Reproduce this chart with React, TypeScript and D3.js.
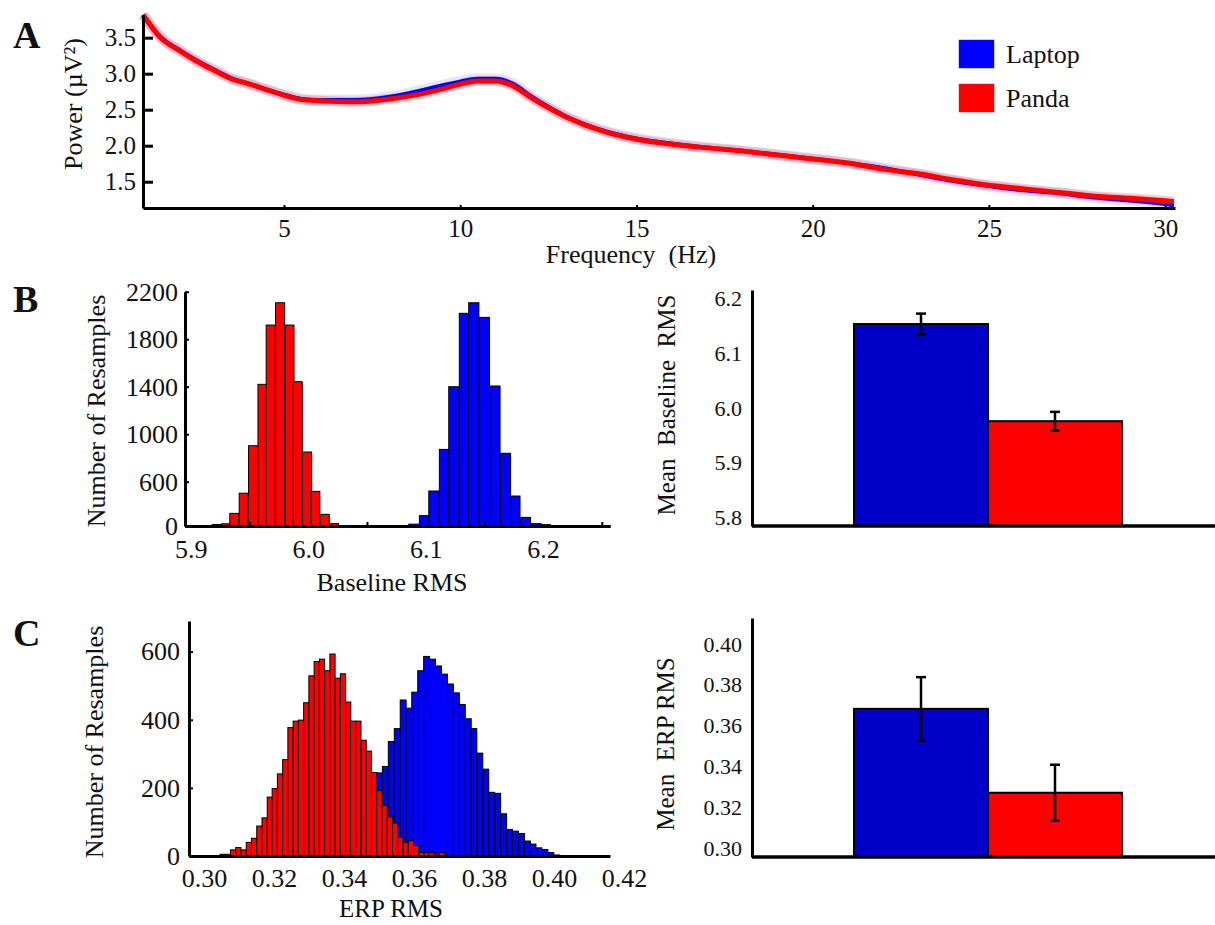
import React, { useEffect, useRef } from "react"
import * as d3 from "d3"

// A: power spectrum
const freqs = [1, 1.5, 2, 2.5, 3, 3.5, 4, 4.5, 5, 5.5, 6, 7, 8, 9, 9.5, 10, 10.5, 11, 11.5, 12, 13, 14, 15, 16, 17, 18, 19, 20, 21, 22, 23, 24, 25, 26, 27, 28, 29, 30, 30.25]
const laptopPower = [3.82, 3.51, 3.34, 3.19, 3.06, 2.94, 2.86, 2.78, 2.71, 2.65, 2.635, 2.635, 2.68, 2.78, 2.84, 2.89, 2.93, 2.93, 2.86, 2.69, 2.41, 2.22, 2.1, 2.03, 1.975, 1.93, 1.875, 1.82, 1.76, 1.69, 1.6, 1.51, 1.44, 1.38, 1.34, 1.28, 1.24, 1.19, 1.17]
const pandaPower = [3.815, 3.5, 3.33, 3.18, 3.05, 2.93, 2.86, 2.78, 2.7, 2.64, 2.625, 2.61, 2.65, 2.73, 2.79, 2.855, 2.9, 2.9, 2.83, 2.67, 2.4, 2.21, 2.09, 2.02, 1.97, 1.925, 1.87, 1.815, 1.76, 1.675, 1.61, 1.525, 1.45, 1.4, 1.35, 1.3, 1.27, 1.235, 1.225]
const powerTicks = [1.5, 2.0, 2.5, 3.0, 3.5]
const freqTicks = [5, 10, 15, 20, 25, 30]

// B: baseline RMS resampling histograms
const baselinePandaBins = [5.922, 5.93, 5.937, 5.945, 5.953, 5.961, 5.968, 5.976, 5.984, 5.991, 5.999, 6.006, 6.014, 6.022]
const baselinePandaCounts = [20, 30, 171, 444, 903, 1420, 1919, 2107, 1919, 1442, 850, 469, 158, 32]
const baselinePandaWidth = 0.0077
const baselineLaptopBins = [6.09, 6.099, 6.107, 6.116, 6.124, 6.133, 6.141, 6.15, 6.159, 6.168, 6.176, 6.185, 6.194, 6.202]
const baselineLaptopCounts = [25, 140, 474, 872, 1400, 2018, 2107, 1984, 1406, 839, 406, 117, 32, 18]
const baselineLaptopWidth = 0.0087
const baselineCountTicks = [0, 600, 1000, 1400, 1800, 2200]
const baselineRmsTicks = [5.9, 6.0, 6.1, 6.2]
const baselineRmsMinor = [5.95, 6.05, 6.15, 6.25]

// C: ERP RMS resampling histograms
const erpPandaBins = [0.3053, 0.3068, 0.3083, 0.3098, 0.3113, 0.3128, 0.3143, 0.3158, 0.3173, 0.3188, 0.3202, 0.3217, 0.3232, 0.3247, 0.3262, 0.3277, 0.3292, 0.3307, 0.3322, 0.3337, 0.3352, 0.3367, 0.3382, 0.3397, 0.3412, 0.3426, 0.3441, 0.3456, 0.3471, 0.3486, 0.3501, 0.3516, 0.3531, 0.3546, 0.3561, 0.3576, 0.3591, 0.3606, 0.3621, 0.3636, 0.365, 0.3665, 0.368, 0.3695]
const erpPandaCounts = [5, 5, 18, 25, 18, 40, 52, 88, 112, 173, 198, 241, 283, 377, 396, 399, 450, 529, 571, 578, 544, 593, 522, 535, 452, 396, 396, 340, 308, 245, 192, 149, 115, 97, 56, 40, 45, 31, 10, 10, 10, 6, 10, 2]
const erpPandaWidth = 0.00149
const erpLaptopBins = [0.3298, 0.3315, 0.3332, 0.3349, 0.3366, 0.3383, 0.34, 0.3417, 0.3433, 0.345, 0.3467, 0.3484, 0.3501, 0.3518, 0.3535, 0.3552, 0.3569, 0.3586, 0.3602, 0.3619, 0.3636, 0.3653, 0.367, 0.3687, 0.3704, 0.3721, 0.3738, 0.3755, 0.3771, 0.3788, 0.3805, 0.3822, 0.3839, 0.3856, 0.3873, 0.389, 0.3907, 0.3924, 0.394, 0.3957, 0.3974, 0.3991, 0.4008]
const erpLaptopCounts = [2, 3, 5, 8, 12, 18, 28, 40, 55, 80, 110, 160, 244, 263, 336, 374, 458, 434, 481, 544, 586, 578, 558, 534, 505, 479, 445, 403, 374, 302, 255, 187, 184, 124, 78, 73, 66, 44, 35, 24, 19, 10, 3]
const erpLaptopWidth = 0.00169
const erpCountTicks = [0, 200, 400, 600]
const erpRmsTicks = [0.3, 0.32, 0.34, 0.36, 0.38, 0.4, 0.42]

// bar charts
const groups = ["Laptop", "Panda"]
const baselineMeans = [6.153, 5.976]
const baselineErrors = [0.019, 0.017]
const erpMeans = [0.3683, 0.3273]
const erpErrors = [0.0155, 0.0137]
const meanBaselineTicks = [5.8, 5.9, 6.0, 6.1, 6.2]
const meanErpTicks = [0.3, 0.32, 0.34, 0.36, 0.38, 0.4]

const BLUE = "#0000ff"
const RED = "#ff0000"
const BAR_BLUE = "#0000c8"
const FONT = "'Liberation Serif', 'Times New Roman', serif"

export default function App() {
  const ref = useRef(null)

  useEffect(() => {
    const svg = d3.select(ref.current)
    svg.selectAll("*").remove()

    const styleAxis = (g, size) => {
      g.select(".domain").attr("stroke", "#000").attr("stroke-width", 3)
      g.selectAll(".tick line").attr("stroke", "#000").attr("stroke-width", 2)
      g.selectAll("text").attr("font-family", FONT).attr("font-size", size).attr("fill", "#111")
      g.attr("font-family", null).attr("font-size", null)
    }

    const label = (x, y, txt, size, rotate = false, anchor = "middle") => {
      const t = svg.append("text")
        .attr("font-family", FONT)
        .attr("font-size", size)
        .attr("fill", "#111")
        .attr("text-anchor", anchor)
        .style("white-space", "pre")
        .text(txt)
      if (rotate) {
        t.attr("transform", `translate(${x},${y}) rotate(-90)`).attr("dominant-baseline", "central")
      } else {
        t.attr("x", x).attr("y", y)
      }
      return t
    }

    // panel letters
    label(13, 48, "A", 38, false, "start").attr("font-weight", "bold")
    label(13, 312, "B", 38, false, "start").attr("font-weight", "bold")
    label(13, 646, "C", 38, false, "start").attr("font-weight", "bold")

    // ---------- A ----------
    const xA = d3.scaleLinear().domain([1, 30.28]).range([143, 1175])
    const yA = d3.scaleLinear().domain([1.135, 3.815]).range([208, 15])
    const lineA = (vals) => d3.line().x((d, i) => xA(freqs[i])).y(d => yA(d)).curve(d3.curveMonotoneX)(vals)

    svg.append("path").attr("d", lineA(laptopPower)).attr("fill", "none")
      .attr("stroke", BLUE).attr("stroke-opacity", 0.1).attr("stroke-width", 11)
    svg.append("path").attr("d", lineA(pandaPower)).attr("fill", "none")
      .attr("stroke", RED).attr("stroke-opacity", 0.2).attr("stroke-width", 10)
    svg.append("path").attr("d", lineA(laptopPower)).attr("fill", "none")
      .attr("stroke", BLUE).attr("stroke-width", 4)
    svg.append("path").attr("d", lineA(pandaPower)).attr("fill", "none")
      .attr("stroke", RED).attr("stroke-width", 5)

    const axAy = svg.append("g").attr("transform", "translate(143,0)")
      .call(d3.axisLeft(yA).tickValues(powerTicks).tickFormat(d3.format(".1f"))
        .tickSizeInner(-10).tickSizeOuter(0).tickPadding(7))
    styleAxis(axAy, 25)
    axAy.selectAll(".tick line").attr("stroke-width", 3)
    const axAx = svg.append("g").attr("transform", "translate(0,208)")
      .call(d3.axisBottom(xA).tickValues(freqTicks).tickFormat(d3.format("d"))
        .tickSizeInner(-3).tickSizeOuter(0).tickPadding(11))
    styleAxis(axAx, 25)

    label(73, 104, "Power (µV²)", 26, true)
    label(631, 263, "Frequency  (Hz)", 26)

    // legend
    const legend = [["Laptop", BLUE], ["Panda", RED]]
    legend.forEach(([name, color], i) => {
      svg.append("rect").attr("x", 959).attr("y", 40 + i * 44).attr("width", 35).attr("height", 28)
        .attr("fill", color).attr("stroke", color).attr("stroke-opacity", 0.4)
      label(1006, 54 + i * 44, name, 26, false, "start").attr("dy", "0.35em")
    })

    // ---------- histograms ----------
    const drawHist = (x, y, bins, counts, width, color) => {
      svg.append("g").selectAll("rect").data(bins).enter().append("rect")
        .attr("x", d => x(d - width / 2))
        .attr("width", d => x(d + width / 2) - x(d - width / 2))
        .attr("y", (d, i) => y(counts[i]))
        .attr("height", (d, i) => y(0) - y(counts[i]))
        .attr("fill", color)
        .attr("stroke", "#000")
        .attr("stroke-width", 1)
    }

    // B histogram
    const xB = d3.scaleLinear().domain([5.895, 6.257]).range([185, 610])
    const yB = d3.scaleLinear().domain([0, 600, 2200]).range([526, 481.7, 291.7])
    drawHist(xB, yB, baselinePandaBins, baselinePandaCounts, baselinePandaWidth, RED)
    drawHist(xB, yB, baselineLaptopBins, baselineLaptopCounts, baselineLaptopWidth, BLUE)
    const axBy = svg.append("g").attr("transform", "translate(185,0)")
      .call(d3.axisLeft(yB).tickValues(baselineCountTicks).tickFormat(d3.format("d"))
        .tickSizeInner(-4).tickSizeOuter(0).tickPadding(7))
    styleAxis(axBy, 26)
    const axBxMinor = svg.append("g").attr("transform", "translate(0,526)")
      .call(d3.axisBottom(xB).tickValues(baselineRmsMinor).tickFormat(() => "")
        .tickSizeInner(-4).tickSizeOuter(0))
    styleAxis(axBxMinor, 26)
    const axBx = svg.append("g").attr("transform", "translate(0,526)")
      .call(d3.axisBottom(xB).tickValues(baselineRmsTicks).tickFormat(d3.format(".1f"))
        .tickSizeInner(0).tickSizeOuter(0).tickPadding(14))
    styleAxis(axBx, 26)
    label(96, 411, "Number of Resamples", 26, true)
    label(392, 591, "Baseline RMS", 26)

    // C histogram
    const xC = d3.scaleLinear().domain([0.2957, 0.416]).range([189, 610])
    const yC = d3.scaleLinear().domain([0, 690]).range([856, 621])
    drawHist(xC, yC, erpLaptopBins, erpLaptopCounts, erpLaptopWidth, BLUE)
    drawHist(xC, yC, erpPandaBins, erpPandaCounts, erpPandaWidth, RED)
    const axCy = svg.append("g").attr("transform", "translate(189,0)")
      .call(d3.axisLeft(yC).tickValues(erpCountTicks).tickFormat(d3.format("d"))
        .tickSizeInner(-4).tickSizeOuter(0).tickPadding(9))
    styleAxis(axCy, 26)
    const axCx = svg.append("g").attr("transform", "translate(0,856)")
      .call(d3.axisBottom(xC).tickValues(erpRmsTicks).tickFormat(d3.format(".2f"))
        .tickSizeInner(0).tickSizeOuter(0).tickPadding(13))
    styleAxis(axCx, 26)
    label(94, 742, "Number of Resamples", 26, true)
    label(391, 917, "ERP RMS", 25)

    // ---------- bar charts ----------
    const xBar = d3.scaleBand().domain(groups).range([854, 1122]).paddingInner(0)
    const drawBars = (y, means, errors, ticks, fmt) => {
      const colors = [BAR_BLUE, RED]
      svg.append("g").selectAll("rect").data(groups).enter().append("rect")
        .attr("x", d => xBar(d))
        .attr("width", xBar.bandwidth())
        .attr("y", (d, i) => y(means[i]))
        .attr("height", (d, i) => y.range()[0] - y(means[i]))
        .attr("fill", (d, i) => colors[i])
        .attr("stroke", "#000")
        .attr("stroke-width", 2)
      const cx = d => xBar(d) + xBar.bandwidth() / 2
      const err = svg.append("g").selectAll("g").data(groups).enter().append("g")
        .attr("stroke", "#000").attr("stroke-width", 2.5)
      err.append("line")
        .attr("x1", cx).attr("x2", cx)
        .attr("y1", (d, i) => y(means[i] - errors[i])).attr("y2", (d, i) => y(means[i] + errors[i]))
      err.append("line")
        .attr("x1", d => cx(d) - 5).attr("x2", d => cx(d) + 5)
        .attr("y1", (d, i) => y(means[i] - errors[i])).attr("y2", (d, i) => y(means[i] - errors[i]))
      err.append("line")
        .attr("x1", d => cx(d) - 5).attr("x2", d => cx(d) + 5)
        .attr("y1", (d, i) => y(means[i] + errors[i])).attr("y2", (d, i) => y(means[i] + errors[i]))

      const ay = svg.append("g").attr("transform", "translate(752,0)")
        .call(d3.axisLeft(y).tickValues(ticks).tickFormat(fmt).tickSizeInner(0).tickSizeOuter(0).tickPadding(10))
      styleAxis(ay, 22)
      svg.append("line").attr("x1", 752).attr("x2", 1215).attr("y1", y.range()[0]).attr("y2", y.range()[0])
        .attr("stroke", "#000").attr("stroke-width", 3.5)
    }

    const yMeanB = d3.scaleLinear().domain([5.785, 6.215]).range([526, 290])
    drawBars(yMeanB, baselineMeans, baselineErrors, meanBaselineTicks, d3.format(".1f"))
    label(666, 405, "Mean  Baseline  RMS", 25, true)

    const yMeanC = d3.scaleLinear().domain([0.2959, 0.4127]).range([857, 618])
    drawBars(yMeanC, erpMeans, erpErrors, meanErpTicks, d3.format(".2f"))
    label(665, 744, "Mean  ERP RMS", 25, true)
  }, [])

  return (
    <svg ref={ref} width={1215} height={925}
      style={{ position: "absolute", left: 0, top: 0, background: "#fff" }} />
  )
}
